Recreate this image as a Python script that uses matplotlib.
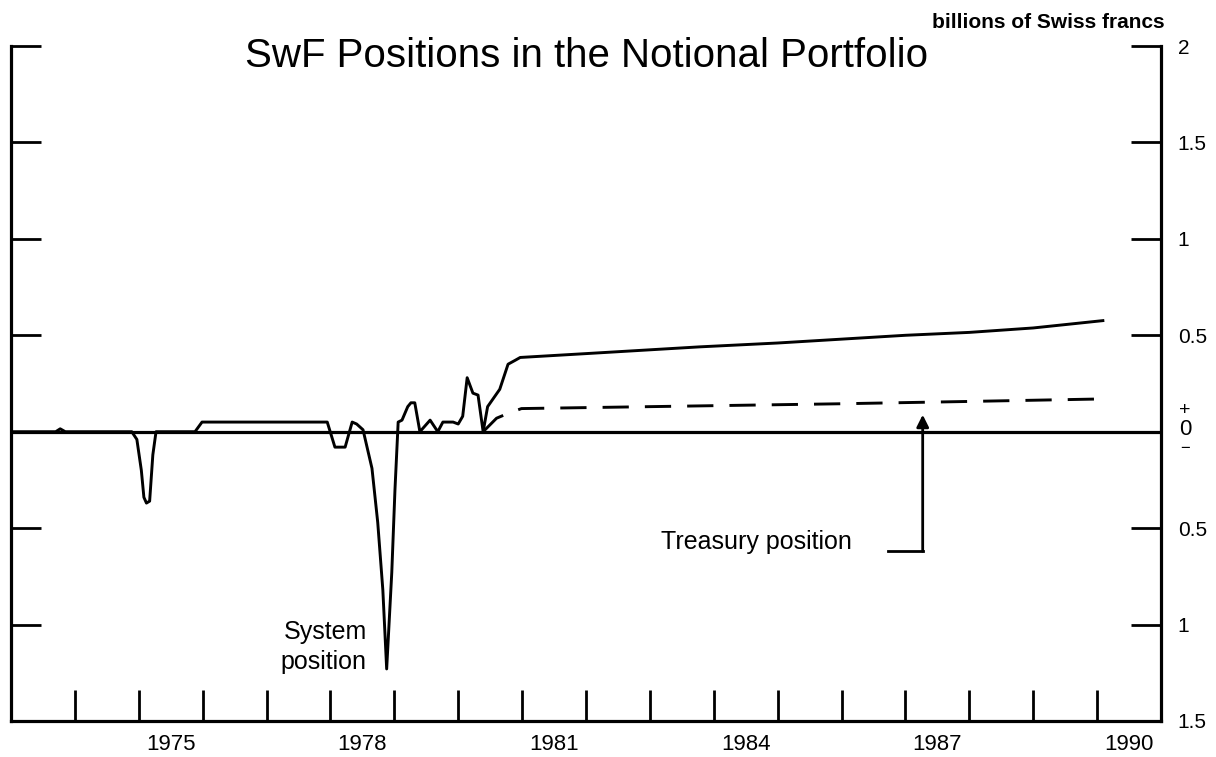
import matplotlib
matplotlib.use("Agg")
import matplotlib.pyplot as plt
from matplotlib import transforms as mtransforms

plt.rcParams['font.family'] = ['Liberation Sans', 'DejaVu Sans']

# System position (billions of SwF)
sys_years = [1973.0, 1973.7, 1973.77, 1973.85, 1974.89, 1974.97, 1975.04, 1975.08,
             1975.12, 1975.17, 1975.22, 1975.27, 1975.88, 1975.99, 1977.95, 1978.07,
             1978.23, 1978.34, 1978.41, 1978.51, 1978.65, 1978.74, 1978.82, 1978.88,
             1978.96, 1979.01, 1979.06, 1979.12, 1979.21, 1979.26, 1979.32, 1979.40,
             1979.56, 1979.68, 1979.76, 1979.92, 1980.0, 1980.07, 1980.14, 1980.23,
             1980.31, 1980.39, 1980.46, 1980.65, 1980.78, 1980.89, 1980.97, 1982.0,
             1983.78, 1985.0, 1987.0, 1988.0, 1989.0, 1990.09]
sys_values = [0.0, 0.0, 0.015, 0.0, 0.0, -0.04, -0.2, -0.34,
              -0.37, -0.36, -0.12, 0.0, 0.0, 0.05, 0.05, -0.08,
              -0.08, 0.05, 0.04, 0.01, -0.19, -0.47, -0.82, -1.23,
              -0.73, -0.30, 0.05, 0.06, 0.13, 0.15, 0.15, 0.0,
              0.06, 0.0, 0.05, 0.05, 0.04, 0.08, 0.28, 0.2,
              0.19, 0.0, 0.13, 0.22, 0.35, 0.37, 0.385, 0.405,
              0.44, 0.46, 0.50, 0.515, 0.538, 0.576]

# Treasury position
tsy_years = [1980.39, 1980.6, 1980.78, 1980.99, 1982.0, 1984.0, 1986.0, 1988.0, 1990.09]
tsy_values = [0.0, 0.07, 0.095, 0.12, 0.125, 0.135, 0.145, 0.157, 0.17]

year_ticks = list(range(1974, 1991))
year_label_pos = [1975.5, 1978.5, 1981.5, 1984.5, 1987.5, 1990.5]
year_labels = ['1975', '1978', '1981', '1984', '1987', '1990']
ytick_vals = [-1.5, -1, -0.5, 0, 0.5, 1, 1.5, 2]
ytick_labels = ['1.5', '1', '0.5', '', '0.5', '1', '1.5', '2']

W, H = 1216, 757
fig = plt.figure(figsize=(W / 100, H / 100), dpi=100)
ax = fig.add_axes([11 / W, 1 - 721 / H, 1150 / W, 675 / H])

ax.set_xlim(1973, 1991)
ax.set_ylim(-1.5, 2)

ax.axhline(0, color='black', lw=2.3, zorder=2)
ax.plot(sys_years, sys_values, color='black', lw=2.1, solid_joinstyle='round', zorder=3)
ax.plot(tsy_years, tsy_values, color='black', lw=2.1, dashes=(9, 5.5), zorder=3)

# frame: no top spine
ax.spines['top'].set_visible(False)
for s in ('left', 'right', 'bottom'):
    ax.spines[s].set_linewidth(2.3)

ax.set_yticks(ytick_vals, labels=ytick_labels)
ax.tick_params(axis='y', left=True, right=True, labelleft=False, labelright=True,
               direction='in', length=21.6, width=2.0, pad=12, labelsize=15)

ax.set_xticks(year_ticks, labels=[''] * len(year_ticks))
ax.set_xticks(year_label_pos, labels=year_labels, minor=True)
ax.tick_params(axis='x', which='major', direction='in', length=22, width=2.0)
ax.tick_params(axis='x', which='minor', length=0, pad=9, labelsize=16)

# +/0/- marker on the right axis
tr = mtransforms.blended_transform_factory(ax.transAxes, ax.transData)
ax.text(1.021, 0.11, '+', transform=tr, ha='center', va='center', fontsize=14, clip_on=False)
ax.text(1.021, 0.01, '0', transform=tr, ha='center', va='center', fontsize=16, clip_on=False)
ax.text(1.021, -0.085, '\u2212', transform=tr, ha='center', va='center', fontsize=12, clip_on=False)

# annotations
arrow_tip = (1987.27, 0.088)
arrow_corner = (1987.27, -0.62)
arrow_end = (1986.72, -0.62)
ax.plot([arrow_end[0], arrow_corner[0]], [arrow_end[1], arrow_corner[1]], color='black', lw=2.0)
ax.annotate('', xy=arrow_tip, xytext=arrow_corner,
            arrowprops=dict(arrowstyle='-|>', color='black', lw=2.0,
                            mutation_scale=18, shrinkA=0, shrinkB=0))
ax.text(1986.16, -0.607, 'Treasury position', ha='right', va='baseline', fontsize=18)
ax.text(1978.57, -1.115, 'System\nposition', ha='right', va='center', fontsize=18,
        linespacing=1.3)

fig.text(587 / W, 1 - 67 / H, 'SwF Positions in the Notional Portfolio',
         ha='center', va='baseline', fontsize=29)
fig.text(1165 / W, 1 - 28 / H, 'billions of Swiss francs', ha='right', va='baseline',
         fontsize=15, fontweight='bold')

fig.savefig('out.png', dpi=100)
